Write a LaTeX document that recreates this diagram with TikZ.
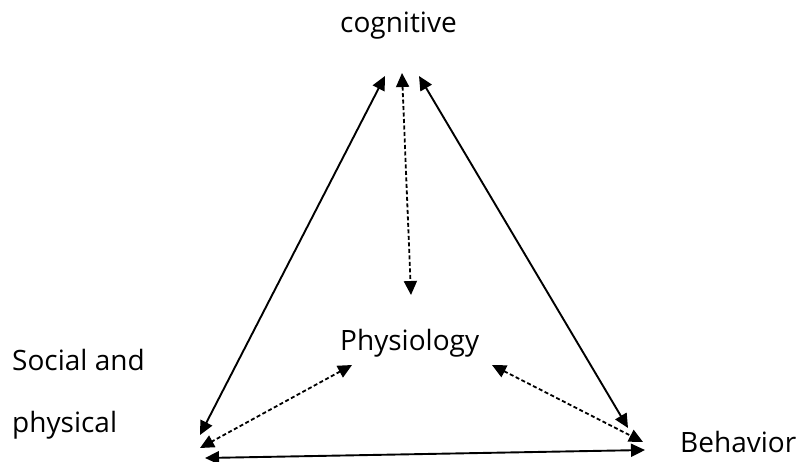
\documentclass[tikz,border=0pt]{standalone}
\usepackage{fontspec}
\setmainfont{Open Sans}
\usetikzlibrary{arrows.meta}
\begin{document}
\begin{tikzpicture}[x=1pt,y=1pt,
  lbl/.style={anchor=base west,inner sep=0pt,font=\fontsize{28}{33}\selectfont},
  solidarr/.style={line width=1.9pt,{Triangle[length=14pt,width=13pt]}-{Triangle[length=14pt,width=13pt]}},
  dasharr/.style={line width=1.8pt,dash pattern=on 4pt off 2.5pt,{Triangle[length=14pt,width=13pt]}-{Triangle[length=14pt,width=13pt]}}]
\useasboundingbox (0,0) rectangle (799,461);
% labels
\node[lbl] (cog) at (340,428) {cognitive};
\node[lbl] (phy) at (340,111) {Physiology};
\node[lbl] (soc) at (12,91) {Social and};
\node[lbl] (phs) at (12,29) {physical};
\node[lbl] (beh) at (680,9) {Behavior};
% arrow end points
\coordinate (cL) at (385,385);
\coordinate (cM) at (402,388);
\coordinate (cR) at (419,385);
\coordinate (pT) at (411,166);
\coordinate (pL) at (352,96);
\coordinate (pR) at (492,96);
\coordinate (sA) at (200,26);
\coordinate (sB) at (200,13);
\coordinate (sC) at (205,3);
\coordinate (bA) at (628,33);
\coordinate (bB) at (643,19);
\coordinate (bC) at (645,11);
% connectors
\draw[solidarr] (cL) -- (sA);
\draw[dasharr] (cM) -- (pT);
\draw[solidarr] (cR) -- (bA);
\draw[dasharr] (pL) -- (sB);
\draw[dasharr] (pR) -- (bB);
\draw[solidarr] (sC) -- (bC);
\end{tikzpicture}
\end{document}
